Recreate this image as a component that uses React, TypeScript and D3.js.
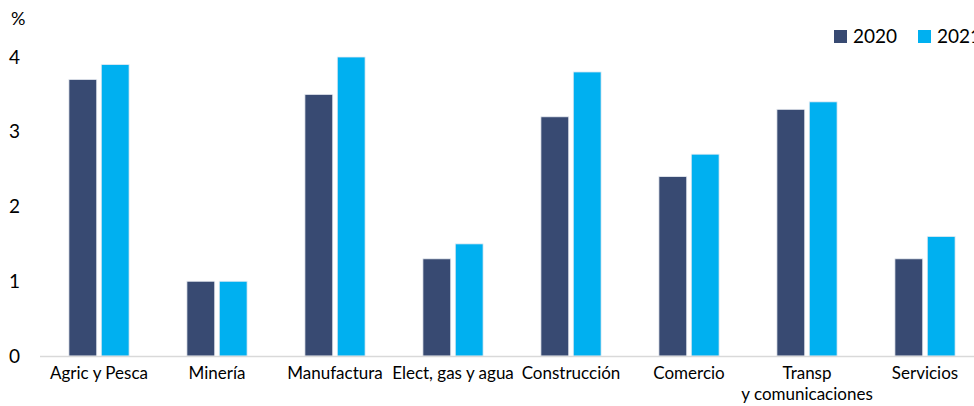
import { useEffect, useRef } from 'react';
import * as d3 from 'd3';

const CATEGORIES = [
  'Agric y Pesca',
  'Minería',
  'Manufactura',
  'Elect, gas y agua',
  'Construcción',
  'Comercio',
  'Transp\ny comunicaciones',
  'Servicios',
];
const SERIES = ['2020', '2021'];
const VALUES_2020 = [3.7, 1.0, 3.5, 1.3, 3.2, 2.4, 3.3, 1.3];
const VALUES_2021 = [3.9, 1.0, 4.0, 1.5, 3.8, 2.7, 3.4, 1.6];
const Y_TICKS = [0, 1, 2, 3, 4];

const COLORS: Record<string, string> = { '2020': '#384a72', '2021': '#00b0f0' };
const FONT = 'Lato, "Open Sans", sans-serif';

const W = 974;
const H = 406;
const MARGIN = { top: 57, right: -10, bottom: 50, left: 40 };

export default function App() {
  const svgRef = useRef<SVGSVGElement>(null);

  useEffect(() => {
    const svg = d3.select(svgRef.current!);
    svg.selectAll('*').remove();

    const innerH = H - MARGIN.top - MARGIN.bottom;
    const x = d3.scaleBand<string>().domain(CATEGORIES).range([MARGIN.left, W - MARGIN.right]).paddingInner(0.49).paddingOuter(0.245);
    const xs = d3.scaleBand<string>().domain(SERIES).range([0, x.bandwidth()]).paddingInner(0.14);
    const y = d3.scaleLinear().domain([0, 4]).range([MARGIN.top + innerH, MARGIN.top]);

    const rows = CATEGORIES.map((c, i) => ({ c, vals: [VALUES_2020[i], VALUES_2021[i]] }));

    // bars
    const groups = svg.append('g').selectAll('g').data(rows).join('g')
      .attr('transform', (d) => `translate(${x(d.c)},0)`);
    groups.selectAll('rect')
      .data((d) => d.vals.map((v, j) => ({ s: SERIES[j], v })))
      .join('rect')
      .attr('x', (d) => xs(d.s)!)
      .attr('y', (d) => y(d.v))
      .attr('width', xs.bandwidth())
      .attr('height', (d) => y(0) - y(d.v))
      .attr('fill', (d) => COLORS[d.s])
      .attr('stroke', '#e8ecf2')
      .attr('stroke-width', 0.8);

    // baseline
    svg.append('line')
      .attr('x1', MARGIN.left).attr('x2', W)
      .attr('y1', y(0) + 0.5).attr('y2', y(0) + 0.5)
      .attr('stroke', '#d9d9d9').attr('stroke-width', 1.5);

    // y tick labels
    svg.append('g').selectAll('text').data(Y_TICKS).join('text')
      .attr('x', 9)
      .attr('y', (d) => y(d))
      .attr('dy', '0.35em')
      .attr('font-family', FONT).attr('font-size', 19).attr('fill', '#000')
      .text((d) => d);

    svg.append('text')
      .attr('x', 11).attr('y', 25)
      .attr('font-family', FONT).attr('font-size', 18).attr('fill', '#000')
      .text('%');

    // x labels
    const xl = svg.append('g').selectAll('text').data(CATEGORIES).join('text')
      .attr('x', (d) => x(d)! + x.bandwidth() / 2)
      .attr('y', y(0) + 23)
      .attr('text-anchor', 'middle')
      .attr('font-family', FONT).attr('font-size', 17).attr('fill', '#000');
    xl.selectAll('tspan')
      .data((d) => d.split('\n'))
      .join('tspan')
      .attr('x', function () {
        return (this.parentNode as SVGTextElement).getAttribute('x');
      })
      .attr('dy', (_d, i) => (i === 0 ? 0 : 21))
      .text((d) => d);

    // legend
    const legendX = [834, 918];
    SERIES.forEach((s, i) => {
      svg.append('rect')
        .attr('x', legendX[i]).attr('y', 30)
        .attr('width', 13).attr('height', 13)
        .attr('fill', COLORS[s]);
      svg.append('text')
        .attr('x', legendX[i] + 19).attr('y', 43)
        .attr('font-family', FONT).attr('font-size', 19).attr('fill', '#000')
        .text(s);
    });
  }, []);

  return (
    <svg
      ref={svgRef}
      width={W}
      height={H}
      style={{ position: 'fixed', left: 0, top: 0, background: '#fff' }}
    />
  );
}
